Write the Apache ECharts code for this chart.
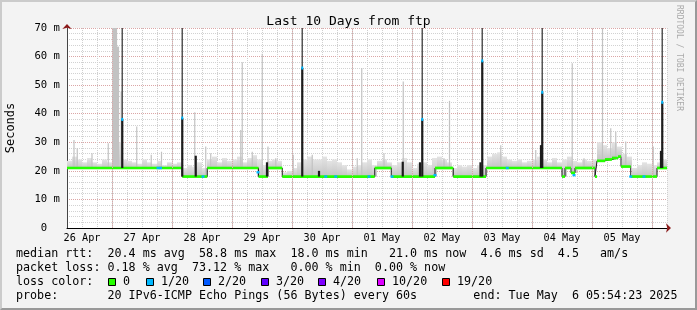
<!DOCTYPE html>
<html>
<head>
<meta charset="utf-8">
<script src="https://cdn.jsdelivr.net/npm/echarts@6.0.0/dist/echarts.min.js"></script>
<style>
html, body { margin: 0; padding: 0; background: #f3f3f3; }
#main { position: absolute; left: 0; top: 0; width: 697px; height: 310px; }
#frame { position: absolute; left: 0; top: 0; width: 697px; height: 310px; box-sizing: border-box;
  border-top: 2px solid #cbcbcb; border-left: 2px solid #cbcbcb;
  border-right: 2px solid #999; border-bottom: 2px solid #999; pointer-events: none; }
</style>
</head>
<body>
<div id="main"></div>
<div id="frame"></div>
<script>
// hours are counted from 26 Apr 00:00, the graph runs 26 Apr 06:00 .. 06 May 06:00
var startHour = 6;
var endHour = 246;
var dayLabels = ['26 Apr', '27 Apr', '28 Apr', '29 Apr', '30 Apr', '01 May', '02 May', '03 May', '04 May', '05 May'];

// median rtt (ms), [hour where the level starts, value]
var medianSteps = [
    [6, 21], [52.1, 18], [62.1, 21], [82.6, 18], [86.4, 21], [92.1, 18], [129.1, 21], [135.7, 18],
    [153.2, 21], [160.5, 18], [173.6, 21], [204, 18], [205.2, 21], [207.6, 19.3], [209.2, 21],
    [217.2, 18], [218, 23.5], [221.2, 24], [224, 24.5], [226.4, 25], [227.6, 21.5], [231.5, 18],
    [242, 21], [246, 21]
];

// top of the dense smoke (ms), one value per 2 hours from 06:00 26 Apr
var smokeStep = 2;
var smokeTop = [
    23.5, 25, 24, 23, 24.5, 23, 22.5, 24, 23, 28,
    30, 24, 23.5, 23, 22.5, 24, 23, 22.5, 23.5, 22,
    23, 22.5, 23, 21, 22, 21.5, 23, 21, 24, 25,
    23, 24.5, 23.5, 24, 25, 23, 24.5, 25.5, 24, 22,
    23.5, 24, 23.5, 19.5, 20, 21, 23, 24, 25, 24,
    24, 25, 23.5, 24, 23, 22, 20.5, 21.5, 22, 23,
    24, 22, 23.5, 24, 23, 22, 23, 24.5, 23, 21,
    22.5, 23, 22, 24.5, 25, 24, 23, 21, 22, 21.5,
    22, 21, 22, 22, 25, 26, 26.5, 25, 24, 23.5,
    24, 23, 23.5, 24, 25, 24, 23, 24.5, 23, 24,
    25, 23.5, 23, 24, 23.5, 24, 30, 29, 28, 30,
    28.5, 26, 25, 21, 22, 23, 22.5, 22, 23, 24
];

// single slow pings, [hour, top ms]
var smokeSpikes = [
    [8.8, 30.8], [10.1, 27.9], [16, 26.2], [22.5, 29.7], [24.3, 46], [24.6, 75], [25, 75], [25.4, 75],
    [25.8, 75], [26.2, 63.5], [26.6, 63.5], [27.7, 47.8], [33.9, 35.5], [39.7, 25.6], [43.8, 26.7],
    [57.1, 40.5], [61.5, 28.5], [63.5, 26.2], [75.5, 34.3], [76.1, 58], [80.1, 26.7], [84.1, 61],
    [86.4, 28.5], [89.5, 24.4], [96.5, 25.6], [104.1, 25.6], [122.1, 24.4], [123.9, 56], [132.8, 26.2],
    [140.5, 51.3], [156.8, 24.4], [159, 44.5], [179.5, 29], [193.5, 27.3], [208.1, 57.7], [212.8, 24.4],
    [220.2, 75], [223.5, 34.9], [225.5, 33.7], [229.5, 30.3], [240.5, 28.5]
];

// loss bursts, [hour, base ms, median ms, top ms (0 = none)]
var lossSpikes = [
    [28.1, 21, 38, 75], [52.1, 18, 38.5, 75], [57.5, 18, 25.3, 0], [86, 18, 23, 0],
    [100.1, 18, 56, 75], [106.8, 18, 20, 0], [140.3, 18, 23.2, 0], [147.2, 18, 23, 0],
    [148.1, 18, 38, 75], [171.4, 18, 23, 0], [172.1, 18, 58.5, 75], [195.6, 21, 29, 0],
    [196.1, 21, 47.5, 75], [243.6, 21, 27, 0], [244.1, 21, 44, 75]
];

// 1/20 loss marks on the median line, [hour, ms]
var lossDots = [
    [42.4, 21], [43.4, 21], [60.4, 18], [82.4, 19.5], [109.5, 18], [113.5, 18], [126.8, 18],
    [136, 18], [153.2, 18.5], [182.1, 21], [208.8, 18.5], [231.5, 18], [236.8, 18]
];

var lossColors = ['#26ff00', '#00b8ff', '#0059ff', '#5e00ff', '#7e00ff', '#dd00ff', '#ff0000'];
var lossLabels = ['0', '1/20', '2/20', '3/20', '4/20', '10/20', '19/20'];
var lossBoxX = [108, 146, 203, 261, 318, 377, 442];

var statLines = [
    'median rtt:  20.4 ms avg  58.8 ms max  18.0 ms min   21.0 ms now  4.6 ms sd  4.5   am/s',
    'packet loss: 0.18 % avg  73.12 % max   0.00 % min  0.00 % now',
    'loss color:',
    'probe:       20 IPv6-ICMP Echo Pings (56 Bytes) every 60s        end: Tue May  6 05:54:23 2025'
];

var mono = 'DejaVu Sans Mono';

function medianAt(h) {
    var v = medianSteps[0][1];
    for (var i = 0; i < medianSteps.length; i++) {
        if (medianSteps[i][0] <= h) v = medianSteps[i][1];
    }
    return v;
}

var smokeData = smokeTop.map(function(t, i) {
    var h = startHour + i * smokeStep;
    return [h, medianAt(h + smokeStep / 2), t];
});
var spikeData = smokeSpikes.map(function(s) {
    return [s[0], medianAt(s[0]), s[1]];
});
var greenData = [];
for (var i = 0; i < medianSteps.length - 1; i++) {
    greenData.push([medianSteps[i][0], medianSteps[i + 1][0], medianSteps[i][1]]);
}
var midnights = dayLabels.map(function(d, i) { return { xAxis: 24 * (i + 1) }; });

var myChart = echarts.init(document.getElementById('main'));

var graphics = [];
statLines.forEach(function(t, i) {
    graphics.push({
        type: 'text', left: 16, top: 255 + i * 13.9 - 7,
        style: { text: t, font: '11.7px "' + mono + '"', fill: '#000' }
    });
});
lossLabels.forEach(function(l, i) {
    graphics.push({
        type: 'rect', shape: { x: lossBoxX[i] + 0.5, y: 278.5, width: 7, height: 7 },
        style: { fill: lossColors[i], stroke: '#000', lineWidth: 1 }
    });
    graphics.push({
        type: 'text', left: lossBoxX[i] + 15, top: 276,
        style: { text: l, font: '11.7px "' + mono + '"', fill: '#000' }
    });
});
graphics.push({
    type: 'text', x: 683, y: 5, rotation: -Math.PI / 2,
    style: { text: 'RRDTOOL / TOBI OETIKER', font: '8px "' + mono + '"', fill: '#aaaaaa' }
});

option = {
    animation: false,
    backgroundColor: '#f3f3f3',
    title: {
        text: 'Last 10 Days from ftp',
        left: 'center',
        top: 10,
        textStyle: { fontFamily: mono, fontSize: 13, fontWeight: 'normal', color: '#000' }
    },
    grid: {
        left: 67, right: 30, top: 28, bottom: 82,
        outerBoundsMode: 'none', containLabel: false,
        show: true, backgroundColor: '#ffffff', borderWidth: 0
    },
    xAxis: [{
        type: 'value', min: startHour, max: endHour, interval: 6, position: 'bottom',
        axisLine: { onZero: false, lineStyle: { color: '#000', width: 1 } },
        axisTick: { show: false },
        axisLabel: {
            margin: 5, fontFamily: mono, fontSize: 10.2, color: '#000',
            formatter: function(v) {
                if ((v - 12) % 24 === 0) return dayLabels[(v - 12) / 24] || '';
                return '';
            }
        },
        splitLine: { show: true, lineStyle: { color: '#cfcfcf', type: [1, 1], width: 1 } }
    }, {
        type: 'value', min: startHour, max: endHour, position: 'bottom',
        axisLine: { show: true, onZero: false, symbol: ['none', 'arrow'], symbolSize: [7, 5], symbolOffset: [0, 4],
            lineStyle: { color: '#8b1a1a', width: 0 } },
        axisTick: { show: false }, axisLabel: { show: false }, splitLine: { show: false }
    }],
    yAxis: [{
        type: 'value', min: 0, max: 70, interval: 10, position: 'left',
        name: 'Seconds', nameLocation: 'middle', nameGap: 50,
        nameTextStyle: { fontFamily: mono, fontSize: 12, color: '#000' },
        axisLine: { show: true, onZero: false, lineStyle: { color: '#444', width: 1 } },
        axisTick: { show: false },
        axisLabel: {
            margin: 7, fontFamily: mono, fontSize: 10.6, color: '#000',
            formatter: function(v) { return v === 0 ? '0  ' : v + ' m'; }
        },
        splitLine: { show: true, lineStyle: { color: '#dba6a6', type: [1, 1], width: 1 } },
        minorTick: { show: false, splitNumber: 5 },
        minorSplitLine: { show: true, lineStyle: { color: '#d2d2d2', type: [1, 1], width: 1 } }
    }, {
        type: 'value', min: 0, max: 70, position: 'left',
        axisLine: { show: true, onZero: false, symbol: ['none', 'arrow'], symbolSize: [7, 5], symbolOffset: [0, 4],
            lineStyle: { color: '#8b1a1a', width: 0 } },
        axisTick: { show: false }, axisLabel: { show: false }, splitLine: { show: false }
    }],
    graphic: graphics,
    series: [{
        // dense smoke
        type: 'custom',
        clip: true,
        z: 1,
        data: smokeData,
        renderItem: function(params, api) {
            var h = api.value(0), lo = api.value(1), hi = api.value(2);
            if (hi <= lo) return null;
            var a = api.coord([h, lo]);
            var b = api.coord([h + smokeStep, hi]);
            return {
                type: 'rect',
                shape: { x: a[0], y: b[1], width: b[0] - a[0], height: a[1] - b[1] },
                style: {
                    fill: new echarts.graphic.LinearGradient(0, 0, 0, 1, [
                        { offset: 0, color: '#e4e4e4' }, { offset: 1, color: '#c4c4c4' }
                    ])
                }
            };
        },
        markLine: {
            silent: true, symbol: ['none', 'none'], label: { show: false },
            lineStyle: { color: '#dba6a6', type: [1, 1], width: 1 },
            data: midnights
        }
    }, {
        // single slow pings
        type: 'custom',
        clip: true,
        z: 2,
        data: spikeData,
        renderItem: function(params, api) {
            var a = api.coord([api.value(0), api.value(1)]);
            var b = api.coord([api.value(0), api.value(2)]);
            return {
                type: 'line',
                shape: { x1: a[0], y1: a[1], x2: b[0], y2: b[1] },
                style: { stroke: '#c2c2c2', lineWidth: 1.2 }
            };
        }
    }, {
        // median, level changes
        type: 'line',
        step: 'end',
        z: 3,
        symbol: 'none',
        data: medianSteps,
        lineStyle: { color: '#1a1a1a', width: 1 }
    }, {
        // median, loss colour
        type: 'custom',
        clip: true,
        z: 4,
        data: greenData,
        renderItem: function(params, api) {
            var a = api.coord([api.value(0), api.value(2)]);
            var b = api.coord([api.value(1), api.value(2)]);
            return {
                type: 'line',
                shape: { x1: a[0], y1: a[1], x2: b[0], y2: b[1] },
                style: { stroke: lossColors[0], lineWidth: 2.7 }
            };
        }
    }, {
        // loss bursts
        type: 'custom',
        clip: true,
        z: 5,
        data: lossSpikes,
        renderItem: function(params, api) {
            var h = api.value(0), base = api.value(1), mid = api.value(2), top = api.value(3);
            var pb = api.coord([h, base]), pm = api.coord([h, mid]);
            var kids = [];
            if (top > 0) {
                var pt = api.coord([h, top]);
                kids.push({ type: 'line', shape: { x1: pm[0], y1: pm[1], x2: pt[0], y2: pt[1] },
                    style: { stroke: '#555555', lineWidth: 1.5 } });
            }
            kids.push({ type: 'line', shape: { x1: pb[0], y1: pb[1], x2: pm[0], y2: pm[1] },
                style: { stroke: '#1c1c1c', lineWidth: 2.2 } });
            if (top > 0) {
                kids.push({ type: 'rect', shape: { x: pm[0] - 1, y: pm[1] - 1.5, width: 2, height: 3 },
                    style: { fill: lossColors[1] } });
            }
            return { type: 'group', children: kids };
        }
    }, {
        // 1/20 loss marks
        type: 'custom',
        clip: true,
        z: 6,
        data: lossDots,
        renderItem: function(params, api) {
            var p = api.coord([api.value(0), api.value(1)]);
            return { type: 'rect', shape: { x: p[0] - 1.5, y: p[1] - 1.2, width: 3, height: 2.4 },
                style: { fill: lossColors[1] } };
        }
    }]
};

myChart.setOption(option);
</script>
</body>
</html>
